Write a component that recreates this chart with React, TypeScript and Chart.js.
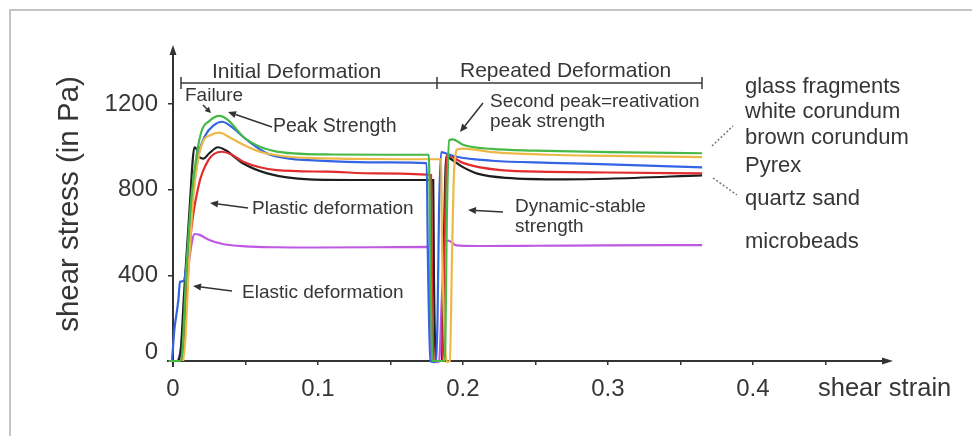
import React, { useEffect, useRef } from 'react';
import { Chart, registerables } from 'chart.js';

Chart.register(...registerables);

// ---------- data (shear strain vs shear stress in Pa) ----------
const seriesNames = ['glass fragments', 'white corundum', 'brown corundum', 'Pyrex', 'quartz sand', 'microbeads'];

const glassStrain = [-0.003, 0.005, 0.0065, 0.009, 0.0129, 0.0165, 0.0198, 0.025, 0.032, 0.038, 0.0485, 0.06, 0.07, 0.083, 0.11, 0.15, 0.1765, 0.1775, 0.179, 0.1875, 0.189, 0.1905, 0.193, 0.2, 0.22, 0.25, 0.3, 0.365];
const glassStress = [0, 0, 50, 400, 780, 970, 1075, 1120, 1144, 1125, 1047, 1000, 980, 969, 964, 963, 963, 500, 0, 0, 700, 1030, 1035, 1010, 990, 982, 975, 970];

const whiteStrain = [0.007, 0.0085, 0.011, 0.0145, 0.0198, 0.026, 0.032, 0.04, 0.05, 0.06, 0.075, 0.093, 0.12, 0.16, 0.185, 0.1855, 0.1875, 0.189, 0.191, 0.1925, 0.194, 0.1965, 0.2, 0.22, 0.26, 0.3, 0.365];
const whiteStress = [0, 100, 450, 800, 1010, 1055, 1066, 1040, 1005, 977, 957, 948, 944, 942, 942, 600, 100, -5, 0, 500, 900, 990, 992, 975, 963, 958, 952];

const brownStrain = [-0.004, -0.001, 0.001, 0.0037, 0.0048, 0.0071, 0.0094, 0.0129, 0.0175, 0.022, 0.028, 0.034, 0.04, 0.051, 0.065, 0.08, 0.094, 0.12, 0.15, 0.175, 0.1758, 0.1775, 0.181, 0.1825, 0.1835, 0.185, 0.187, 0.195, 0.22, 0.26, 0.3, 0.365];
const brownStress = [0, 5, 150, 285, 370, 373, 456, 720, 960, 1050, 1100, 1117, 1095, 1032, 969, 945, 938, 930, 927, 924, 500, 0, -5, 200, 700, 975, 972, 955, 935, 925, 918, 904];

const pyrexStrain = [0.0055, 0.0065, 0.009, 0.0117, 0.0175, 0.0244, 0.0336, 0.04, 0.0485, 0.0715, 0.106, 0.14, 0.178, 0.1785, 0.18, 0.186, 0.1872, 0.1885, 0.189, 0.192, 0.2, 0.226, 0.26, 0.3, 0.365];
const pyrexStress = [0, 20, 250, 551, 814, 938, 977, 965, 930, 891, 884, 876, 868, 500, 0, 0, 500, 900, 962, 955, 925, 891, 883, 880, 876];

const quartzStrain = [0.004, 0.0055, 0.0075, 0.0094, 0.0117, 0.0135, 0.0147, 0.0162, 0.0185, 0.021, 0.025, 0.031, 0.036, 0.0485, 0.065, 0.094, 0.13, 0.1795, 0.18, 0.1815, 0.1855, 0.187, 0.1885, 0.19, 0.2, 0.21, 0.23, 0.27, 0.3, 0.365];
const quartzStress = [0, 60, 300, 502, 736, 930, 998, 990, 950, 945, 970, 998, 985, 922, 876, 848, 845, 845, 400, 0, 0, 600, 955, 950, 905, 875, 855, 848, 851, 867];

const beadsStrain = [0.003, 0.005, 0.008, 0.011, 0.0135, 0.015, 0.018, 0.025, 0.035, 0.05, 0.07, 0.1, 0.14, 0.176, 0.1768, 0.178, 0.1835, 0.1855, 0.1875, 0.19, 0.1955, 0.21, 0.25, 0.3, 0.365];
const beadsStress = [0, 40, 250, 460, 570, 593, 590, 565, 545, 535, 531, 530, 531, 533, 300, 0, -5, 300, 557, 562, 540, 537, 538, 540, 541];

const seriesStrain = [glassStrain, whiteStrain, brownStrain, pyrexStrain, quartzStrain, beadsStrain];
const seriesStress = [glassStress, whiteStress, brownStress, pyrexStress, quartzStress, beadsStress];
const seriesColors = ['rgb(70,185,70)', 'rgb(238,184,70)', 'rgb(50,100,228)', 'rgb(225,45,45)', 'rgb(30,30,30)', 'rgb(190,90,225)'];

const yTickValues = [0, 400, 800, 1200];
const xTickValues = [0, 0.05, 0.1, 0.15, 0.2, 0.25, 0.3, 0.35, 0.4, 0.45];
const xTickLabels = ['0', '', '0.1', '', '0.2', '', '0.3', '', '0.4', ''];

const FONT = "'Liberation Sans', Arial, Helvetica, sans-serif";
const TEXT = '#363636';

function arrow(ctx: CanvasRenderingContext2D, x1: number, y1: number, x2: number, y2: number, head = 8, half = 3.5, lw = 1.5) {
  const ang = Math.atan2(y2 - y1, x2 - x1);
  const bx = x2 - head * Math.cos(ang);
  const by = y2 - head * Math.sin(ang);
  ctx.beginPath();
  ctx.moveTo(x1, y1);
  ctx.lineTo(bx, by);
  ctx.lineWidth = lw;
  ctx.stroke();
  ctx.beginPath();
  ctx.moveTo(x2, y2);
  ctx.lineTo(bx + half * Math.sin(ang), by - half * Math.cos(ang));
  ctx.lineTo(bx - half * Math.sin(ang), by + half * Math.cos(ang));
  ctx.closePath();
  ctx.fill();
}

const decor = {
  id: 'decor',
  beforeDraw(chart: any) {
    const ctx = chart.ctx as CanvasRenderingContext2D;
    ctx.save();
    ctx.fillStyle = '#ffffff';
    ctx.fillRect(0, 0, chart.width, chart.height);
    ctx.strokeStyle = '#c4c4c4';
    ctx.lineWidth = 2;
    ctx.strokeRect(10, 10, chart.width + 40, chart.height + 40);
    ctx.restore();
  },
  beforeDatasetsDraw(chart: any) {
    const ctx = chart.ctx as CanvasRenderingContext2D;
    const xs = chart.scales.x;
    const ys = chart.scales.y;
    const x0 = xs.getPixelForValue(0);
    const y0 = ys.getPixelForValue(0);
    ctx.save();
    ctx.strokeStyle = '#333';
    ctx.fillStyle = '#333';
    ctx.lineWidth = 2;
    // y axis
    ctx.beginPath();
    ctx.moveTo(x0, y0 + 6);
    ctx.lineTo(x0, chart.chartArea.top + 6);
    ctx.stroke();
    ctx.beginPath();
    ctx.moveTo(x0, chart.chartArea.top - 2);
    ctx.lineTo(x0 - 3.5, chart.chartArea.top + 8);
    ctx.lineTo(x0 + 3.5, chart.chartArea.top + 8);
    ctx.closePath();
    ctx.fill();
    // x axis
    const xr = chart.chartArea.right;
    ctx.beginPath();
    ctx.moveTo(x0 - 6, y0);
    ctx.lineTo(xr - 8, y0);
    ctx.stroke();
    ctx.beginPath();
    ctx.moveTo(xr + 1, y0);
    ctx.lineTo(xr - 10, y0 - 3.5);
    ctx.lineTo(xr - 10, y0 + 3.5);
    ctx.closePath();
    ctx.fill();
    ctx.restore();
  },
  afterDraw(chart: any) {
    const ctx = chart.ctx as CanvasRenderingContext2D;
    ctx.save();
    ctx.fillStyle = TEXT;
    ctx.strokeStyle = '#3a3a3a';
    ctx.textBaseline = 'middle';
    ctx.textAlign = 'left';
    const txt = (s: string, x: number, y: number, size: number) => {
      ctx.font = `${size}px ${FONT}`;
      ctx.fillText(s, x, y);
    };
    // brackets
    ctx.lineWidth = 1.5;
    ctx.beginPath();
    ctx.moveTo(181, 83);
    ctx.lineTo(702, 83);
    [181, 437, 702].forEach((x) => {
      ctx.moveTo(x, 77);
      ctx.lineTo(x, 89);
    });
    ctx.stroke();
    txt('Initial Deformation', 212, 72, 21);
    txt('Repeated Deformation', 460, 71, 21);
    txt('Failure', 185, 96, 19);
    txt('Peak Strength', 273, 127, 19.5);
    txt('Plastic deformation', 252, 209, 19);
    txt('Elastic deformation', 242, 293, 19);
    txt('Second peak=reativation', 490, 102, 19);
    txt('peak strength', 490, 122, 19);
    txt('Dynamic-stable', 515, 207, 19);
    txt('strength', 515, 227, 19);
    // legend-like labels
    const ly = [87, 112, 138, 166, 199, 242];
    seriesNames.forEach((n, i) => txt(n, 745, ly[i], 22));
    txt('shear strain', 818, 389, 25.5);
    // arrows
    ctx.fillStyle = '#333';
    ctx.strokeStyle = '#333';
    arrow(ctx, 203, 105, 211, 113, 6, 3);
    arrow(ctx, 272, 127, 228, 112);
    arrow(ctx, 248, 208, 210, 203);
    arrow(ctx, 232, 291, 193, 286);
    arrow(ctx, 483, 103, 460, 132);
    arrow(ctx, 503, 212, 468, 210);
    // dotted connectors
    ctx.strokeStyle = '#777';
    ctx.lineWidth = 1.5;
    ctx.setLineDash([2, 2]);
    ctx.beginPath();
    ctx.moveTo(712, 146);
    ctx.lineTo(733, 126);
    ctx.moveTo(713, 178);
    ctx.lineTo(737, 195);
    ctx.stroke();
    ctx.restore();
  },
};

export default function App() {
  const ref = useRef<HTMLCanvasElement | null>(null);
  useEffect(() => {
    if (!ref.current) return;
    const datasets = seriesNames.map((name, i) => ({
      label: name,
      data: seriesStrain[i].map((s, j) => ({ x: s, y: seriesStress[i][j] })),
      borderColor: seriesColors[i],
      backgroundColor: seriesColors[i],
      borderWidth: 2.2,
      pointRadius: 0,
      cubicInterpolationMode: 'monotone' as const,
      clip: false as any,
      fill: false,
    }));
    const chart = new Chart(ref.current, {
      type: 'line',
      data: { datasets },
      plugins: [decor],
      options: {
        responsive: false,
        animation: false,
        devicePixelRatio: 1,
        layout: { padding: { left: 0, top: 47, right: 80, bottom: 0 } },
        plugins: { legend: { display: false }, tooltip: { enabled: false } },
        scales: {
          x: {
            type: 'linear',
            min: 0,
            max: 0.496,
            border: { display: false },
            grid: { drawOnChartArea: false, drawTicks: true, tickLength: 4, color: '#333', lineWidth: 1.5 },
            afterBuildTicks: (axis: any) => {
              axis.ticks = xTickValues.map((v) => ({ value: v }));
            },
            afterFit: (axis: any) => {
              axis.height = 75;
            },
            ticks: {
              autoSkip: false,
              maxRotation: 0,
              padding: 10,
              color: TEXT,
              font: { family: FONT, size: 24 },
              callback: (_v: any, i: number) => xTickLabels[i],
            },
          },
          y: {
            type: 'linear',
            min: 0,
            max: 1466,
            border: { display: false },
            grid: { drawOnChartArea: false, drawTicks: true, tickLength: 5, color: '#333', lineWidth: 1.5 },
            afterBuildTicks: (axis: any) => {
              axis.ticks = yTickValues.map((v) => ({ value: v }));
            },
            afterFit: (axis: any) => {
              axis.width = 173;
            },
            ticks: {
              padding: 10,
              color: TEXT,
              font: { family: FONT, size: 24, lineHeight: 0.7 },
              callback: (v: any) => (v === 0 ? ['0', ''] : String(v)),
            },
            title: {
              display: true,
              text: 'shear stress (in Pa)',
              color: TEXT,
              font: { family: FONT, size: 29.5 },
              padding: { top: 52, bottom: 0 },
            },
          },
        },
      },
    });
    return () => chart.destroy();
  }, []);
  return (
    <div style={{ position: 'fixed', left: 0, top: 0, width: 972, height: 436, background: '#fff' }}>
      <canvas ref={ref} width={972} height={436} style={{ display: 'block', width: 972, height: 436 }} />
    </div>
  );
}
